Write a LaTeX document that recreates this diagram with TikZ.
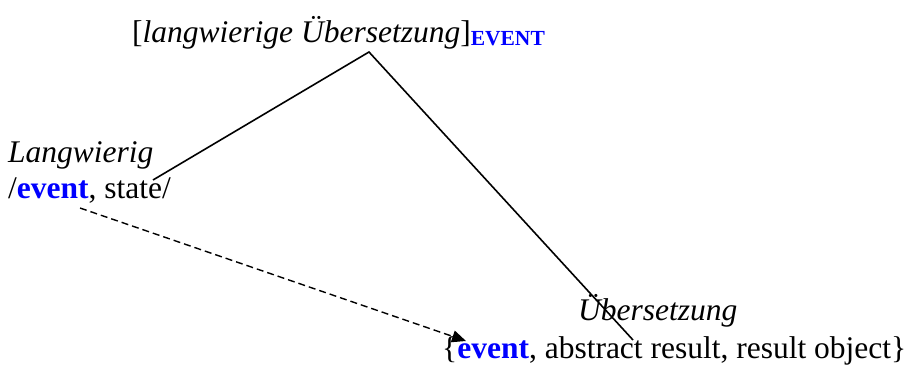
\documentclass[tikz,border=0pt]{standalone}
\usepackage{fontspec}
\setmainfont{Liberation Serif}
\usetikzlibrary{arrows.meta}
\definecolor{evblue}{RGB}{0,0,255}
\begin{document}
\begin{tikzpicture}[x=1pt,y=1pt,
  txt/.style={anchor=base west,inner sep=0pt,font=\fontsize{31.5}{36}\selectfont},
  tree/.style={line width=1.6pt},
  link/.style={line width=1.4pt,dash pattern=on 7pt off 4pt,-{Triangle[length=14pt,width=12pt]}}]
\useasboundingbox (0,0) rectangle (907,365);
\node[txt] (top) at (132,322) {[\textit{langwierige Übersetzung}]\raisebox{-2pt}{\fontsize{21.5}{24}\selectfont\bfseries\color{evblue}EVENT}};
\node[txt] (lw) at (8,203) {\textit{Langwierig}};
\node[txt] (lwsense) at (8,167) {/\textcolor{evblue}{\bfseries event}, state/};
\node[txt] (ue) at (578,45) {\textit{Übersetzung}};
\node[txt] (uesense) at (442,7) {\{\textcolor{evblue}{\bfseries event}, abstract result, result object\}};
\coordinate (apex) at (369,313);
\coordinate (leftend) at (153,185);
\coordinate (rightend) at (633,25);
\coordinate (dstart) at (80,157);
\coordinate (dend) at (466,24);
\draw[tree] (leftend) -- (apex) -- (rightend);
\draw[link] (dstart) -- (dend);
\end{tikzpicture}
\end{document}
